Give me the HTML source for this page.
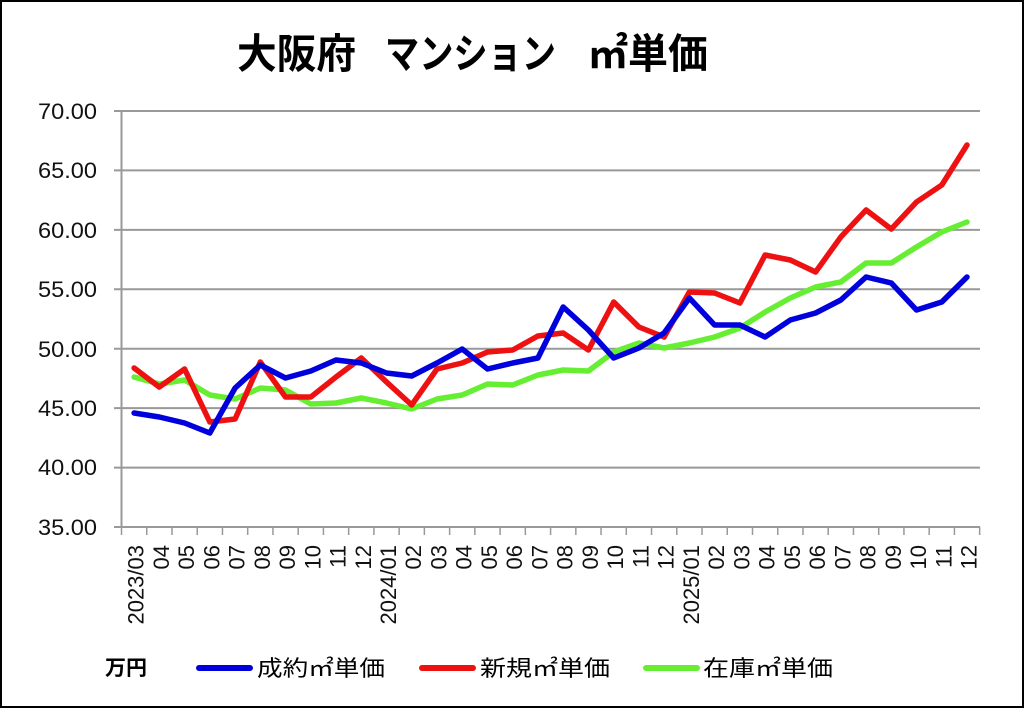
<!DOCTYPE html>
<html><head><meta charset="utf-8"><style>html,body{margin:0;padding:0;background:#fff}svg{display:block}</style></head>
<body>
<svg width="1024" height="709" viewBox="0 0 1024 709" xmlns="http://www.w3.org/2000/svg" font-family="'Liberation Sans','Noto Sans CJK JP',sans-serif">
<rect x="1" y="1" width="1022" height="706" fill="#fff" stroke="#000" stroke-width="2"/>
<g font-size="41" font-weight="bold" fill="#000">
<text x="237" y="68" textLength="119" lengthAdjust="spacingAndGlyphs">大阪府</text>
<text x="385" y="68" textLength="171" lengthAdjust="spacingAndGlyphs">マンション</text>
<text x="588" y="68" textLength="120" lengthAdjust="spacingAndGlyphs">㎡単価</text>
</g>
<g stroke="#999" stroke-width="2">
<line x1="114" y1="111" x2="980" y2="111"/>
<line x1="114" y1="170.4" x2="980" y2="170.4"/>
<line x1="114" y1="229.9" x2="980" y2="229.9"/>
<line x1="114" y1="289.3" x2="980" y2="289.3"/>
<line x1="114" y1="348.7" x2="980" y2="348.7"/>
<line x1="114" y1="408.1" x2="980" y2="408.1"/>
<line x1="114" y1="467.6" x2="980" y2="467.6"/>
<line x1="114" y1="527" x2="980" y2="527"/>
<line x1="121.5" y1="111" x2="121.5" y2="527"/>
</g>
<g id="ticks" stroke="#999" stroke-width="1.5"></g>
<g font-size="22" fill="#111" text-anchor="end">
<text x="97" y="119" textLength="59" lengthAdjust="spacingAndGlyphs">70.00</text>
<text x="97" y="178" textLength="59" lengthAdjust="spacingAndGlyphs">65.00</text>
<text x="97" y="238" textLength="59" lengthAdjust="spacingAndGlyphs">60.00</text>
<text x="97" y="297" textLength="59" lengthAdjust="spacingAndGlyphs">55.00</text>
<text x="97" y="357" textLength="59" lengthAdjust="spacingAndGlyphs">50.00</text>
<text x="97" y="416" textLength="59" lengthAdjust="spacingAndGlyphs">45.00</text>
<text x="97" y="475" textLength="59" lengthAdjust="spacingAndGlyphs">40.00</text>
<text x="97" y="535" textLength="59" lengthAdjust="spacingAndGlyphs">35.00</text>
</g>
<g id="xl" font-size="22" fill="#111" text-anchor="end"></g>
<g id="ser" fill="none" stroke-width="5.5" stroke-linejoin="round" stroke-linecap="round"></g>
<text x="105" y="675" font-size="21" font-weight="bold" fill="#000">万円</text>
<line x1="199" y1="668" x2="250" y2="668" stroke="#0000dd" stroke-width="6" stroke-linecap="round"/>
<text x="257" y="676" font-size="22" fill="#000" textLength="128" lengthAdjust="spacingAndGlyphs">成約㎡単価</text>
<line x1="422" y1="668" x2="473" y2="668" stroke="#ee1111" stroke-width="6" stroke-linecap="round"/>
<text x="480" y="676" font-size="22" fill="#000" textLength="130" lengthAdjust="spacingAndGlyphs">新規㎡単価</text>
<line x1="646" y1="668" x2="697" y2="668" stroke="#66ee33" stroke-width="6" stroke-linecap="round"/>
<text x="703" y="676" font-size="22" fill="#000" textLength="130" lengthAdjust="spacingAndGlyphs">在庫㎡単価</text>
</svg>
<script>
var NS="http://www.w3.org/2000/svg";
var t=document.getElementById('ticks');
for(var i=0;i<=34;i++){var x=121.5+25.24*i;var l=document.createElementNS(NS,'line');l.setAttribute('x1',x);l.setAttribute('x2',x);l.setAttribute('y1',527);l.setAttribute('y2',535);t.appendChild(l);}
var labs=[];
for(var i=0;i<34;i++){var m=(i+2)%12+1;var s=(m<10?'0':'')+m;if(i==0)s='2023/03';if(i==10)s='2024/01';if(i==22)s='2025/01';labs.push(s);}
var xl=document.getElementById('xl');
labs.forEach(function(s,i){var x=134.6+25.24*i+9;var e=document.createElementNS(NS,'text');e.setAttribute('transform','translate('+x+',545) rotate(-90)');e.textContent=s;xl.appendChild(e);});
var B=[413,417,423,433,388,365,378,371,360,363,373,376,363,349,369,363,358,307,330,358,348,333,298,325,325,337,320,313,300,277,283,310,302,277];
var R=[368,387,369,422,419,362,397,397,377,358,382,405,369,363,352,350,336,333,350,302,327,337,292,293,303,255,260,272,237,210,229,202,185,145];
var G=[377,384,380,395,399,388,390,404,403,398,403,409,399,395,384,385,375,370,371,352,343,348,343,337,328,312,298,287,282,263,263,247,232,222];
var sg=document.getElementById('ser');
[[B,'#0000dd'],[R,'#ee1111'],[G,'#66ee33']].reverse().forEach(function(p){var d=p[0].map(function(y,i){return (134.1+25.24*i).toFixed(1)+','+y}).join(' ');var e=document.createElementNS(NS,'polyline');e.setAttribute('points',d);e.setAttribute('stroke',p[1]);sg.appendChild(e);});
</script>
</body></html>
